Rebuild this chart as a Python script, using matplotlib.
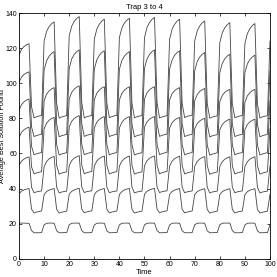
import numpy as np
import matplotlib
matplotlib.use("Agg")
import matplotlib.pyplot as plt

# time steps 0..100, environment switches every 5 steps
time = np.arange(0, 101)

# average best solution found, one list per run (bottom to top)
best_1 = [20.3, 20.3, 20.3, 20.2, 20.2, 16.0, 14.8, 14.8, 14.8, 14.9,
          19.3, 20.2, 20.3, 20.3, 20.2, 15.9, 14.8, 14.8, 14.9, 14.9,
          19.3, 20.2, 20.3, 20.3, 20.3, 16.0, 14.8, 14.8, 14.8, 14.9,
          19.2, 20.2, 20.3, 20.3, 20.2, 15.9, 14.8, 14.8, 14.9, 14.9,
          19.3, 20.2, 20.3, 20.3, 20.2, 15.9, 14.8, 14.8, 14.8, 14.9,
          19.3, 20.2, 20.3, 20.3, 20.3, 16.0, 14.8, 14.8, 14.9, 14.9,
          19.2, 20.2, 20.3, 20.3, 20.2, 15.9, 14.8, 14.8, 14.8, 14.9,
          19.3, 20.2, 20.3, 20.3, 20.2, 15.9, 14.8, 14.8, 14.9, 14.9,
          19.3, 20.2, 20.3, 20.3, 20.3, 16.0, 14.8, 14.8, 14.8, 14.9,
          19.2, 20.2, 20.3, 20.3, 20.2, 15.9, 14.8, 14.8, 14.9, 14.9,
          19.3]
best_2 = [37.0, 38.5, 39.2, 39.7, 40.0, 28.2, 26.1, 26.6, 26.9, 27.2,
          36.5, 38.3, 39.1, 39.6, 40.0, 28.2, 26.0, 26.5, 26.8, 27.1,
          36.7, 38.4, 39.2, 39.7, 40.1, 28.2, 26.2, 26.7, 27.0, 27.3,
          36.6, 38.3, 39.1, 39.6, 40.0, 28.2, 26.1, 26.6, 26.9, 27.2,
          36.6, 38.3, 39.2, 39.7, 40.0, 28.2, 26.0, 26.5, 26.8, 27.1,
          36.7, 38.4, 39.2, 39.7, 40.1, 28.2, 26.2, 26.7, 27.0, 27.3,
          36.6, 38.3, 39.1, 39.6, 40.0, 28.2, 26.1, 26.6, 26.9, 27.2,
          36.5, 38.2, 39.0, 39.5, 39.9, 28.1, 26.0, 26.5, 26.8, 27.1,
          36.5, 38.2, 39.0, 39.5, 39.9, 28.1, 26.1, 26.6, 26.9, 27.2,
          36.5, 38.2, 39.0, 39.5, 39.9, 28.1, 26.0, 26.5, 26.8, 27.1,
          36.6]
best_3 = [53.2, 55.6, 56.8, 57.5, 58.0, 40.7, 37.6, 38.1, 38.4, 38.6,
          52.5, 55.4, 56.9, 57.7, 58.3, 40.7, 37.5, 38.0, 38.3, 38.5,
          53.0, 55.9, 57.3, 58.1, 58.7, 40.8, 37.7, 38.2, 38.5, 38.7,
          52.8, 55.7, 57.1, 57.9, 58.5, 40.8, 37.6, 38.1, 38.4, 38.6,
          52.8, 55.6, 57.0, 57.9, 58.5, 40.8, 37.5, 38.0, 38.3, 38.5,
          53.0, 55.8, 57.2, 58.0, 58.6, 40.8, 37.7, 38.2, 38.5, 38.7,
          52.8, 55.6, 57.0, 57.8, 58.4, 40.7, 37.6, 38.1, 38.4, 38.6,
          52.6, 55.4, 56.8, 57.6, 58.2, 40.7, 37.5, 38.0, 38.3, 38.5,
          52.5, 55.3, 56.7, 57.5, 58.1, 40.7, 37.6, 38.1, 38.4, 38.6,
          52.5, 55.3, 56.7, 57.5, 58.1, 40.7, 37.5, 38.0, 38.3, 38.5,
          52.8]
best_4 = [69.0, 72.0, 73.5, 74.4, 75.0, 52.3, 48.3, 48.9, 49.3, 49.6,
          74.0, 77.3, 78.9, 79.9, 80.5, 53.1, 48.2, 48.8, 49.2, 49.5,
          75.0, 78.3, 79.9, 80.9, 81.5, 53.3, 48.4, 49.0, 49.4, 49.7,
          74.5, 77.8, 79.4, 80.4, 81.0, 53.2, 48.3, 48.9, 49.3, 49.6,
          74.5, 77.7, 79.4, 80.3, 81.0, 53.2, 48.2, 48.8, 49.2, 49.5,
          75.0, 78.0, 79.5, 80.4, 81.0, 53.2, 48.4, 49.0, 49.4, 49.7,
          74.5, 77.5, 79.0, 79.9, 80.5, 53.1, 48.3, 48.9, 49.3, 49.6,
          74.0, 77.0, 78.5, 79.4, 80.0, 53.0, 48.1, 48.7, 49.1, 49.4,
          73.5, 76.5, 78.0, 78.9, 79.5, 52.9, 48.3, 48.9, 49.3, 49.6,
          73.5, 76.5, 78.0, 78.9, 79.5, 52.9, 48.2, 48.8, 49.2, 49.5,
          74.0]
best_5 = [84.5, 87.8, 89.4, 90.4, 91.0, 64.0, 59.2, 59.8, 60.2, 60.5,
          90.0, 93.8, 95.6, 96.8, 97.5, 65.0, 59.1, 59.7, 60.1, 60.4,
          91.0, 94.8, 96.6, 97.8, 98.5, 65.2, 59.3, 59.9, 60.3, 60.6,
          90.5, 94.3, 96.1, 97.3, 98.0, 65.1, 59.2, 59.8, 60.2, 60.5,
          90.5, 94.2, 96.1, 97.2, 98.0, 65.1, 59.1, 59.7, 60.1, 60.4,
          91.0, 94.5, 96.3, 97.3, 98.0, 65.1, 59.3, 59.9, 60.3, 60.6,
          90.5, 94.0, 95.8, 96.8, 97.5, 65.0, 59.2, 59.8, 60.2, 60.5,
          90.0, 93.5, 95.3, 96.3, 97.0, 64.9, 59.0, 59.6, 60.0, 60.3,
          89.5, 93.0, 94.8, 95.8, 96.5, 64.8, 59.2, 59.8, 60.2, 60.5,
          89.0, 92.8, 94.6, 95.8, 96.5, 64.8, 59.1, 59.7, 60.1, 60.4,
          90.0]
best_6 = [100.5, 103.5, 105.0, 105.9, 106.5, 75.1, 69.6, 70.2, 70.6, 70.9,
          107.5, 112.8, 115.4, 117.0, 118.0, 76.9, 69.5, 70.1, 70.5, 70.8,
          108.5, 113.8, 116.4, 118.0, 119.0, 77.0, 69.7, 70.3, 70.7, 71.0,
          108.0, 113.3, 115.9, 117.5, 118.5, 76.9, 69.6, 70.2, 70.6, 70.9,
          108.0, 113.0, 115.5, 117.0, 118.0, 76.8, 69.5, 70.1, 70.5, 70.8,
          108.5, 113.8, 116.4, 118.0, 119.0, 77.0, 69.7, 70.3, 70.7, 71.0,
          108.0, 113.3, 115.9, 117.5, 118.5, 76.9, 69.6, 70.2, 70.6, 70.9,
          107.0, 112.3, 114.9, 116.5, 117.5, 76.7, 69.4, 70.0, 70.4, 70.7,
          106.0, 111.3, 113.9, 115.5, 116.5, 76.6, 69.6, 70.2, 70.6, 70.9,
          106.0, 111.0, 113.5, 115.0, 116.0, 76.5, 69.5, 70.1, 70.5, 70.8,
          107.0]
best_7 = [116.0, 119.3, 120.9, 121.9, 122.5, 86.6, 80.3, 80.9, 81.3, 81.6,
          124.0, 129.5, 132.3, 133.9, 135.0, 88.5, 80.1, 80.8, 81.2, 81.5,
          127.0, 132.5, 135.3, 136.9, 138.0, 89.0, 80.2, 80.9, 81.3, 81.6,
          125.0, 130.8, 133.6, 135.4, 136.5, 88.7, 80.4, 81.0, 81.4, 81.7,
          126.0, 131.5, 134.3, 135.9, 137.0, 88.8, 80.3, 80.9, 81.3, 81.6,
          126.0, 131.8, 134.6, 136.4, 137.5, 88.9, 80.2, 80.8, 81.2, 81.5,
          125.0, 130.8, 133.6, 135.4, 136.5, 88.7, 80.4, 81.1, 81.5, 81.8,
          124.0, 129.8, 132.6, 134.4, 135.5, 88.5, 80.1, 80.7, 81.1, 81.4,
          123.0, 128.8, 131.6, 133.4, 134.5, 88.3, 80.3, 80.9, 81.3, 81.6,
          122.5, 128.3, 131.1, 132.9, 134.0, 88.2, 80.2, 80.8, 81.2, 81.5,
          124.0]

plt.rcParams['font.family'] = ['Liberation Sans', 'DejaVu Sans']

fig = plt.figure(figsize=(2.77, 2.77), dpi=100)
ax = fig.add_axes([0.0686, 0.066, 0.906, 0.887])

for series in [best_1, best_2, best_3, best_4, best_5, best_6, best_7]:
    ax.plot(time, series, color="#444444", linewidth=0.6)

ax.set_xlim(0, 100)
ax.set_ylim(0, 140)
ax.set_xticks(np.arange(0, 101, 10))
ax.set_yticks(np.arange(0, 141, 20))
ax.tick_params(direction="in", length=2.5, width=0.5, labelsize=5, pad=1.5,
               top=True, right=True)
for s in ax.spines.values():
    s.set_linewidth(0.6)

ax.set_title("Trap 3 to 4", fontsize=5.5, pad=3)
ax.set_xlabel("Time", fontsize=5.5, labelpad=1)
ax.set_ylabel("Average Best Solution Found", fontsize=5.2)
ax.yaxis.set_label_coords(-0.05, 0.5)

fig.savefig("out.png", dpi=100)
